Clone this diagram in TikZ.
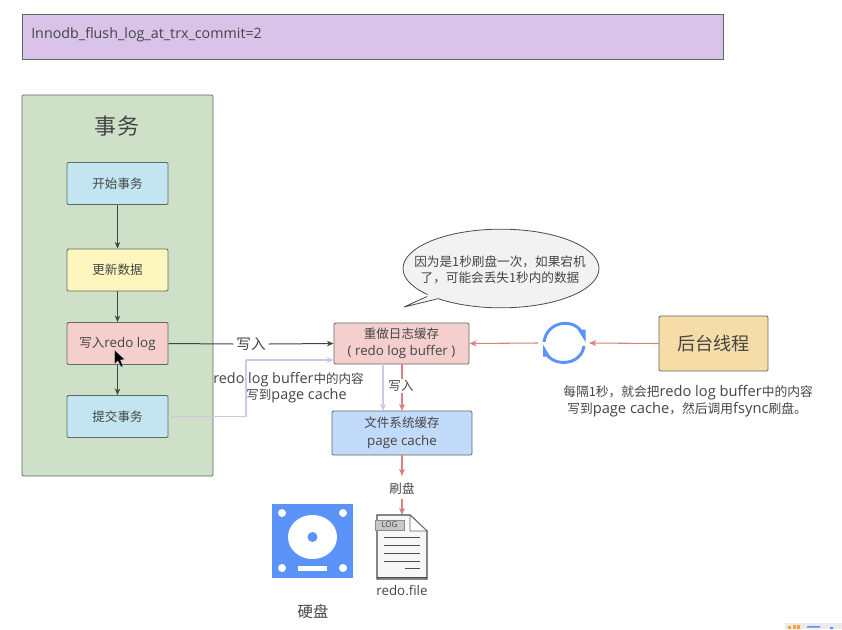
\documentclass[tikz,border=0pt]{standalone}
\usepackage{fontspec}
\setmainfont{Open Sans}
\newfontfamily\cjk[Scale=0.87]{Noto Sans CJK SC}
\newcommand{\cn}[1]{{\cjk #1}}
\newcommand{\ltb}[1]{{\fontsize{10pt}{12.2pt}\selectfont #1}}
\usetikzlibrary{arrows.meta,shapes.geometric,calc}
\definecolor{txt}{HTML}{454545}
\definecolor{edgeg}{HTML}{5F6B5F}
\definecolor{darkline}{HTML}{3F4A3F}
\definecolor{redline}{HTML}{D98080}
\definecolor{purpleline}{HTML}{D4C4E6}
\definecolor{iconblue}{HTML}{5B93F8}
\tikzset{
  base/.style={text=txt,font=\fontsize{10.8pt}{12.2pt}\selectfont,inner sep=0pt},
  boxs/.style={base,draw=edgeg,line width=0.7pt,rounded corners=1pt,align=center},
  stepbox/.style={boxs,minimum width=75.75pt,minimum height=31.5pt},
  dark/.style={draw=darkline,line width=0.75pt,-{Stealth[length=5pt,width=4.2pt]}},
  redarrow/.style={draw=redline,line width=0.8pt,-{Stealth[length=5.5pt,width=4.5pt]}},
  purplearrow/.style={draw=purpleline,line width=1.1pt,-{Stealth[length=5.5pt,width=4.5pt]}},
  lbl/.style={base,fill=white,inner xsep=2pt,inner ysep=1pt},
  plain/.style={base,align=center},
}
\begin{document}
\begin{tikzpicture}[x=0.75pt,y=-0.75pt]
\useasboundingbox[fill=white] (0,0) rectangle (842,629);
% top banner
\node[boxs,minimum width=525.75pt,minimum height=33.75pt,fill={rgb,255:red,217;green,195;blue,232},rounded corners=0pt] (banner) at (372.5,36.5) {};
\node[base,anchor=west,font=\fontsize{10.7pt}{12pt}\selectfont] (bannertext) at (31,35) {Innodb\_flush\_log\_at\_trx\_commit=2};
% transaction panel
\node[boxs,fill={rgb,255:red,207;green,224;blue,200},minimum width=143.25pt,minimum height=285.75pt] (panel) at (117.5,285.5) {};
\node[base,font=\fontsize{19pt}{22pt}\selectfont] (paneltitle) at (117,126) {\cn{事务}};
\node[stepbox,fill={rgb,255:red,194;green,229;blue,241}] (begin) at (117.5,183.5) {\cn{开始事务}};
\node[stepbox,fill={rgb,255:red,253;green,247;blue,191}] (update) at (117.5,270) {\cn{更新数据}};
\node[stepbox,fill={rgb,255:red,245;green,206;blue,206}] (write) at (117.5,343.5) {\cn{写入}\ltb{redo log}};
\node[stepbox,fill={rgb,255:red,194;green,229;blue,241}] (submit) at (117.5,416.5) {\cn{提交事务}};
\draw[dark] (begin) -- (update);
\draw[dark] (update) -- (write);
\draw[dark] (write) -- (submit);
% buffers
\node[boxs,fill={rgb,255:red,245;green,206;blue,206},minimum width=101.25pt,minimum height=30.75pt] (buffer) at (401.5,343.5) {\cn{重做日志缓存}\\[1pt]\ltb{( redo log buffer )}};
\node[boxs,fill={rgb,255:red,194;green,219;blue,250},minimum width=105pt,minimum height=33pt] (cache) at (402,433) {\cn{文件系统缓存}\\[1pt]\ltb{page cache}};
\node[boxs,fill={rgb,255:red,246;green,221;blue,167},minimum width=81.75pt,minimum height=41.25pt,font=\fontsize{15.7pt}{18pt}\selectfont] (thread) at (713.5,343.5) {\cn{后台线程}};
% speech bubble
\coordinate (tailtip) at (404,307);
\node[ellipse,draw=black!70,fill=black!5,line width=0.6pt,minimum width=147pt,minimum height=59pt,inner sep=0pt] (bubble) at (501,268.5) {};
\fill[black!5] (427,297) -- (tailtip) -- (437,299) -- (445,285) -- (430,285) -- cycle;
\draw[black!70,line width=0.6pt] (427,296.5) -- (tailtip) -- (437,299);
\node[plain,font=\fontsize{10.9pt}{12pt}\selectfont] (bubbletext) at (500,269.5) {\cn{因为是1秒刷盘一次，如果宕机}\\\cn{了，可能会丢失1秒内的数据}};
% write connector
\node[lbl,font=\fontsize{12.6pt}{14pt}\selectfont] (writelbl) at (251,344) {\cn{写入}};
\draw[darkline,line width=0.75pt] (write.east) -- (writelbl.west);
\draw[dark] (writelbl.east) -- (buffer.west);
% purple connectors
\coordinate (bufin) at (334,360);
\coordinate (turn) at (246,360);
\coordinate (bufdown) at (383,364);
\coordinate (cachein) at (383,411);
\draw[purpleline,line width=1.1pt] (submit.east) -| (turn);
\draw[purplearrow] (turn) -- (bufin);
\draw[purplearrow] (bufdown) -- (cachein);
\node[plain] (pagelbl) at (288.5,387.5) {redo log buffer\cn{中的内容}\\\hspace*{12pt}\cn{写到}page cache};
% red connectors
\coordinate (redtop) at (402,364);
\coordinate (redbot) at (402,411);
\node[lbl] (inlbl) at (401,386) {\cn{写入}};
\draw[redline,line width=0.8pt] (redtop) -- (inlbl.north -| redtop);
\draw[redarrow] (inlbl.south -| redtop) -- (redbot);
\node[lbl] (flushlbl) at (402,489) {\cn{刷盘}};
\coordinate (cachebot) at (402,455);
\coordinate (filetop) at (402,515);
\draw[redarrow] (cachebot) -- (402,476);
\draw[redarrow] (402,499) -- (filetop);
% sync icon
\coordinate (sync) at (564,343);
\draw[iconblue,line width=2.2pt] (544,342) .. controls (547,320) and (575,318) .. (582,333);
\fill[iconblue] (578,330) -- (585.5,329.5) -- (585.5,342) -- cycle;
\draw[iconblue,line width=2.2pt] (584,346) .. controls (581,366) and (553,367) .. (546,353);
\fill[iconblue] (543,344.5) -- (550,356.5) -- (543,356.5) -- cycle;
\coordinate (syncright) at (589,343);
\coordinate (syncleft) at (538,343);
\draw[redarrow] (thread.west) -- (syncright);
\draw[redarrow] (syncleft) -- (buffer.east);
\node[plain,anchor=north west,align=left,font=\fontsize{11pt}{12.2pt}\selectfont] (threadnote) at (563,385.5) {\cn{每隔1秒，就会把}redo log buffer\cn{中的内容}\\\hspace*{3pt}\cn{写到}page cache\cn{，然后调用}fsync\cn{刷盘。}};
% disk
\fill[iconblue] (272,504) rectangle (353,578);
\fill[white] (282,513) circle[radius=4] (343,513) circle[radius=4] (282,568) circle[radius=4] (343,568) circle[radius=4];
\fill[white] (312.5,537) ellipse[x radius=24.5,y radius=22];
\fill[iconblue] (312.5,537) ellipse[x radius=5,y radius=5];
\fill[white] (298,566) rectangle (327,571);
\node[base,font=\fontsize{13.2pt}{15pt}\selectfont] (disklbl) at (313,612) {\cn{硬盘}};
% file
\filldraw[fill=black!3,draw=black!72,line width=0.8pt] (377,515) -- (410,515) -- (427,531) -- (427,579) -- (377,579) -- cycle;
\filldraw[fill=white,draw=black!60,line width=0.6pt] (410,515) -- (410,531) -- (427,531) -- cycle;
\draw[black!72,line width=0.6pt] (377,577.3) -- (427,577.3);
\foreach \yy in {537,545,553,561} \draw[black!70,line width=0.6pt] (384,\yy) -- (420,\yy);
\draw[black!70,line width=0.6pt] (405,568) -- (420,568);
\node[draw=black!45,fill=black!22,line width=0.5pt,minimum width=21.5pt,minimum height=7.5pt,inner sep=0pt,font=\fontsize{6pt}{7pt}\selectfont,text=txt] (logtag) at (389.5,525) {LOG};
\node[base] (filelbl) at (402,590) {\ltb{redo.file}};
% mouse pointer
\filldraw[fill=black,draw=white!85!black,line width=0.3pt] (114.5,350) -- (114.5,364) -- (118,361) -- (121,367) -- (123,366) -- (120.5,360) -- (125,359.5) -- cycle;
% tray fragment
\fill[black!8] (785,623) rectangle (842,629);
\fill[orange!75] (788,626) rectangle (791,629) (793,625) rectangle (796,629) (797,625) rectangle (800,629);
\fill[iconblue] (807,626) rectangle (820,627.5) (830,627) rectangle (833,629);
\end{tikzpicture}
\end{document}
